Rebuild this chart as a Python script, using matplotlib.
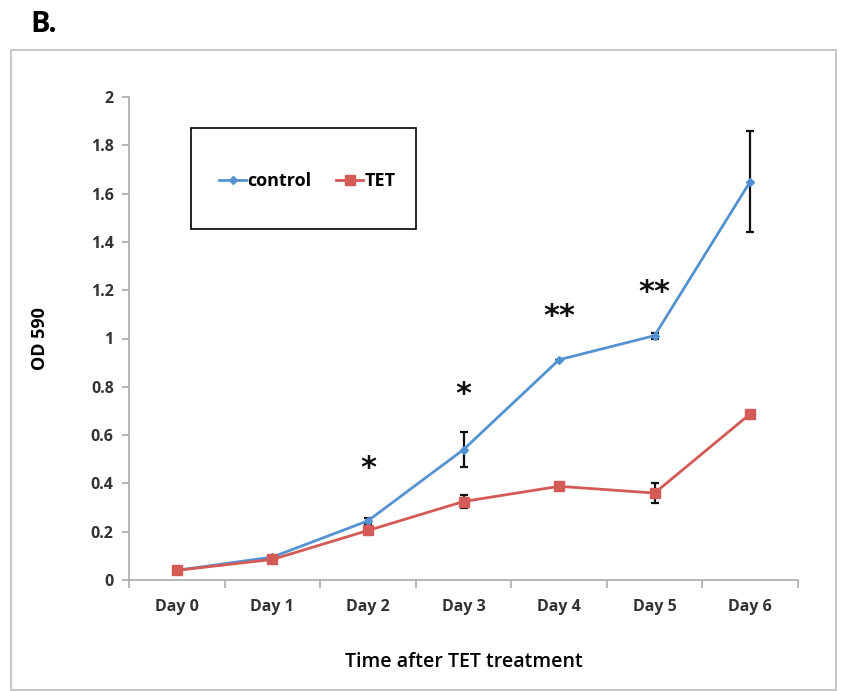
import matplotlib
matplotlib.use("Agg")
import matplotlib.pyplot as plt
from matplotlib.patches import Rectangle
from matplotlib.lines import Line2D

days = ["Day 0", "Day 1", "Day 2", "Day 3", "Day 4", "Day 5", "Day 6"]
control = [0.04, 0.095, 0.245, 0.54, 0.912, 1.012, 1.65]
control_err = [0.0, 0.0, 0.012, 0.072, 0.0, 0.012, 0.21]
tet = [0.04, 0.085, 0.205, 0.325, 0.388, 0.36, 0.688]
tet_err = [0.0, 0.0, 0.0, 0.025, 0.0, 0.043, 0.0]
stars = ["", "", "*", "*", "**", "**", ""]
star_y = [0, 0, 0.46, 0.77, 1.09, 1.19, 0]
yticks = [0, 0.2, 0.4, 0.6, 0.8, 1, 1.2, 1.4, 1.6, 1.8, 2]
ytick_labels = ["0", "0.2", "0.4", "0.6", "0.8", "1", "1.2", "1.4", "1.6", "1.8", "2"]

FONT = ["Open Sans", "DejaVu Sans"]
plt.rcParams['font.family'] = FONT

W, H = 841, 691
fig = plt.figure(figsize=(W/100, H/100), dpi=100)
fig.patches.append(Rectangle((11/W, 1/H), (836-11)/W, (641-1)/H,
                             transform=fig.transFigure, fill=False,
                             edgecolor="#c8c8c8", linewidth=1.5))
# legend frame
fig.patches.append(Rectangle((191/W, 1-229/H), (416-191)/W, (229-128)/H,
                             transform=fig.transFigure, fill=False,
                             edgecolor="black", linewidth=1.2, zorder=5))
ax = fig.add_axes([129/W, 1-580/H, (798-129)/W, (580-97)/H])

x = list(range(len(days)))
blue = "#5592d2"
red = "#d45a55"
ax.errorbar(x, control, yerr=control_err, color=blue, lw=2, marker="D", ms=4,
            ecolor="#111111", elinewidth=1.6, capsize=3, capthick=1.6, zorder=3)
ax.errorbar(x, tet, yerr=tet_err, color=red, lw=2, marker="s", ms=7,
            ecolor="#111111", elinewidth=1.6, capsize=3, capthick=1.6, zorder=3)

for xi, s, sy in zip(x, stars, star_y):
    if s:
        ax.text(xi, sy, s, ha="center", va="center",
                fontsize=22, fontweight="bold", color="#111111", family="DejaVu Sans")

ax.set_xlim(-0.5, 6.5)
ax.set_ylim(0, 2)
ax.set_yticks(yticks)
ax.set_yticklabels(ytick_labels, fontsize=11.5, fontweight="bold", color="#333333")
ax.set_xticks(x)
ax.set_xticklabels(days, fontsize=11.5, fontweight="bold", color="#333333")
ax.tick_params(axis="x", length=0, pad=14)
ax.set_xticks([i - 0.5 for i in range(8)], minor=True)
ax.tick_params(axis="x", which="minor", length=6, color="#aaaaaa", width=1.2)
ax.tick_params(axis="y", length=5, color="#aaaaaa", width=1.2, pad=6)
for side in ["top", "right"]:
    ax.spines[side].set_visible(False)
for side in ["left", "bottom"]:
    ax.spines[side].set_color("#aaaaaa")
    ax.spines[side].set_linewidth(1.2)

ax.set_ylabel("OD 590", fontsize=13, fontweight="bold", labelpad=30)
ax.set_xlabel("Time after TET treatment", fontsize=14, fontweight="semibold", labelpad=26)

handles = [Line2D([], [], color=blue, lw=2, marker="D", ms=4),
           Line2D([], [], color=red, lw=2, marker="s", ms=7)]
leg = ax.legend(handles, ["control", "TET"], loc="center left",
                bbox_to_anchor=(219/W, 1-181/H), bbox_transform=fig.transFigure,
                ncol=2, frameon=False,
                handlelength=1.5, handletextpad=0.05, columnspacing=1.4,
                borderpad=0, borderaxespad=0, prop={"weight": "bold", "size": 13})

fig.text(30/W, 1-25/H, "B.", fontsize=21, fontweight="bold", va="center", ha="left")

fig.savefig("out.png", dpi=100)
